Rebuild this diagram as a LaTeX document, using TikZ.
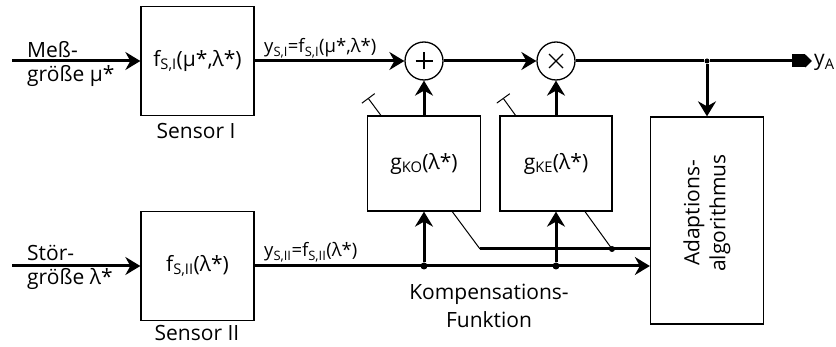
\documentclass[tikz,border=0pt]{standalone}
\usepackage{fontspec}
\setmainfont{Open Sans}
\usetikzlibrary{arrows.meta,positioning}
\tikzset{
  kf/font/.style={font=\fontsize{21}{24}\selectfont},
  kf/box/.style={
    draw=black,
    line width=1.3pt,
    fill=white,
    inner sep=0pt,
    align=center,
    kf/font
  },
  kf/sum/.style={
    circle, draw=black, line width=1.3pt, fill=white,
    minimum size=38pt, inner sep=0pt,
    path picture={\draw[line width=1.3pt,shift={(path picture bounding box.center)}]
      (-8.5pt,0pt) -- (8.5pt,0pt) (0pt,-8.5pt) -- (0pt,8.5pt);}
  },
  kf/prod/.style={
    circle, draw=black, line width=1.3pt, fill=white,
    minimum size=38pt, inner sep=0pt,
    path picture={\draw[line width=1.1pt,shift={(path picture bounding box.center)}]
      (-7pt,-7pt) -- (7pt,7pt) (-7pt,7pt) -- (7pt,-7pt);}
  },
  kf/dot/.style={circle, fill=black, inner sep=0pt, minimum size=7pt},
  kf/label/.style={inner sep=0pt, align=center, kf/font},
  kf/signal/.style={inner sep=0pt, font=\fontsize{18.5}{22}\selectfont},
  kf/line/.style={line width=3pt},
  kf/arrow/.style={-{Stealth[length=15pt,width=18pt,inset=5pt]}, line width=3pt},
  kf/outarrow/.style={-{Square[length=13pt,width=13pt,sep=0pt]Triangle[length=7pt,width=13pt]}, line width=3pt},
  kf/adjust/.style={-{Bar[width=16pt]}, line width=1pt}
}

\begin{document}
\begin{tikzpicture}[x=1pt,y=-1pt]
  \useasboundingbox (0,0) rectangle (836,347);
  \coordinate (inMu) at (12,61);
  \coordinate (inLa) at (12,266);
  \coordinate (kinkKO) at (480,249);
  \coordinate (kinkKE) at (612,249);
  \coordinate (tickKO) at (368,98);
  \coordinate (tickKE) at (503,98);
  \coordinate (outA) at (812,61);
  \draw[kf/adjust] (kinkKO) -- (tickKO);
  \draw[kf/adjust] (kinkKE) -- (tickKE);

  \node[kf/box,minimum width=113pt,minimum height=109pt] (sens1) at (197.5,61) {f\textsubscript{S,I}(μ*,λ*)};
  \node[kf/box,minimum width=113pt,minimum height=109pt] (sens2) at (197.5,266) {f\textsubscript{S,II}(λ*)};
  \node[kf/box,minimum width=113pt,minimum height=95pt] (gko) at (424,163.5) {g\textsubscript{KO}(λ*)};
  \node[kf/box,minimum width=112pt,minimum height=95pt] (gke) at (556,163.5) {g\textsubscript{KE}(λ*)};
  \node[kf/box,minimum width=113pt,minimum height=207pt] (adapt) at (707,220.5) {};
  \node[kf/label,rotate=90,font=\fontsize{21}{26}\selectfont] at (707,213) {Adaptions-\\algorithmus};
  \node[kf/sum] (sum) at (424,61) {};
  \node[kf/prod] (prod) at (556,61) {};
  \node[kf/dot,minimum size=5pt] (jA) at (707,61) {};
  \node[kf/dot] (jKO) at (gko |- sens2) {};
  \node[kf/dot] (jKE) at (gke |- sens2) {};
  \node[kf/dot,minimum size=6pt] (dKE) at (kinkKE) {};

  \node[kf/label,align=left,anchor=west] at (27,64) {Meß-\\größe μ*};
  \node[kf/label,align=left,anchor=west] at (27,267) {Stör-\\größe λ*};
  \node[kf/label,anchor=base] at (196,139) {Sensor I};
  \node[kf/label,anchor=base] at (197,341) {Sensor II};
  \node[kf/signal,anchor=base west] at (264,53) {y\textsubscript{S,I}=f\textsubscript{S,I}(μ*,λ*)};
  \node[kf/signal,anchor=base west] at (264,257) {y\textsubscript{S,II}=f\textsubscript{S,II}(λ*)};
  \node[kf/label,anchor=north,font=\fontsize{21}{28}\selectfont] at (489,284) {Kompensations-\\Funktion};
  \node[kf/label,anchor=base west] (yA) at (814,66) {y\textsubscript{A}};

  \draw[kf/arrow] (inMu) -- (sens1);
  \draw[kf/arrow] (inLa) -- (sens2);
  \draw[kf/arrow] (sens1) -- (sum);
  \draw[kf/arrow] (sum) -- (prod);
  \draw[kf/line] (prod) -- (jA);
  \draw[kf/outarrow] (jA) -- (outA);
  \draw[kf/arrow] (jA) -- (adapt);
  \draw[kf/arrow] (gko) -- (sum);
  \draw[kf/arrow] (gke) -- (prod);
  \draw[kf/arrow] (sens2) -- (sens2 -| adapt.west);
  \draw[kf/arrow] (jKO) -- (gko);
  \draw[kf/arrow] (jKE) -- (gke);
  \draw[kf/line] (kinkKO) -- (kinkKO -| adapt.west);
\end{tikzpicture}
\end{document}
